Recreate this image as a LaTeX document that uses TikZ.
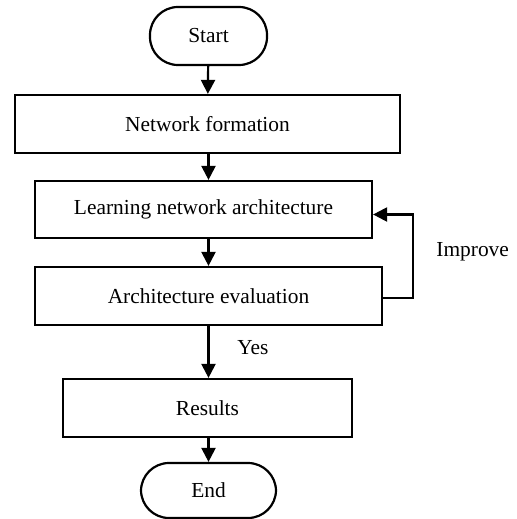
\documentclass[tikz,border=0pt]{standalone}
\usepackage{fontspec}
\setmainfont{Liberation Serif}
\usetikzlibrary{arrows.meta}
\tikzset{
  box/.style={draw, line width=1.1pt, minimum height=29pt, inner sep=0pt},
  term/.style={box, rounded corners=14pt},
  arr/.style={line width=1.1pt, -{Triangle[length=7pt,width=7pt]}}
}
\begin{document}
\begin{tikzpicture}[x=0.5pt,y=-0.5pt,font=\fontsize{10.7}{13}\selectfont]
                \useasboundingbox (0,0) rectangle (516,519) ;
                \node [term, minimum width=58.5pt] (start) at (208.5,36) {Start} ;
                \node [box, minimum width=192.5pt] (form) at (207.5,124) {Network formation} ;
                \node [box, minimum width=168.5pt, minimum height=28.5pt] (learn) at (203.5,209.5) {Learning network architecture} ;
                \node [box, minimum width=173.5pt] (eval) at (208.5,296) {Architecture evaluation} ;
                \node [box, minimum width=144.5pt] (res) at (207.5,408) {Results} ;
                \node [term, minimum width=67.5pt, minimum height=27.5pt] (end) at (208.5,490.5) {End} ;
                \node [anchor=west, inner sep=0pt] (impr) at (436,252) {Improve} ;
                \node [anchor=west, inner sep=0pt] (yes) at (237,348) {Yes} ;
                \draw [arr] (start) -- (form) ;
                \draw [arr] (form.south -| start) -- (learn.north -| start) ;
                \draw [arr] (learn.south -| start) -- (eval.north -| start) ;
                \draw [arr] (eval.south -| start) -- (res.north -| start) ;
                \draw [arr] (res.south -| start) -- (end) ;
                \draw [arr] ([yshift=-1pt]eval.east) -- ++(30,0) |- ([yshift=-2.5pt]learn.east) ;
            \end{tikzpicture}
\end{document}
